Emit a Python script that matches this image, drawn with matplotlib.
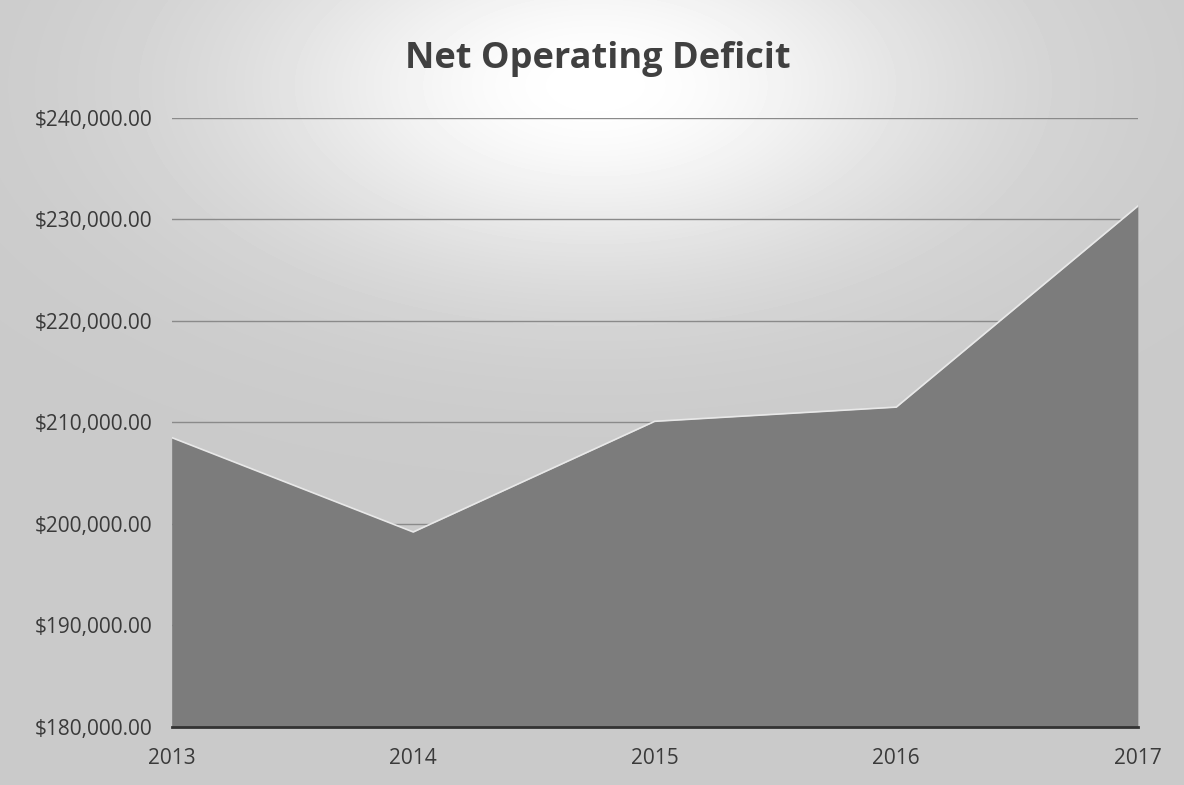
import numpy as np
import matplotlib
matplotlib.use("Agg")
import matplotlib.pyplot as plt
from matplotlib.ticker import FuncFormatter

# data
years = [2013, 2014, 2015, 2016, 2017]
deficit = [208500, 199200, 210100, 211500, 231300]
y_ticks = [180000, 190000, 200000, 210000, 220000, 230000, 240000]

fig = plt.figure(figsize=(11.84, 7.85), dpi=100)

# photocopied gray page with a light glow behind the title
h, w = 785, 1184
yy, xx = np.mgrid[0:h, 0:w]
d = np.sqrt(((xx - 595) / 360.0) ** 2 + ((yy - 85) / 190.0) ** 2)
bg = 0.79 + 0.21 * np.exp(-d ** 2)
bg = np.clip(bg, 0, 1)
fig.figimage(bg, cmap="gray", vmin=0, vmax=1, origin="upper", zorder=-5)

ax = fig.add_axes([0.145, 0.074, 0.816, 0.776])
ax.patch.set_alpha(0)

ax.fill_between(years, deficit, y_ticks[0], color="#7c7c7c", linewidth=0, zorder=2)
ax.plot(years, deficit, color="#e8e8e8", linewidth=1.2, zorder=3)

ax.set_xlim(years[0], years[-1])
ax.set_ylim(y_ticks[0], y_ticks[-1])
ax.set_yticks(y_ticks)
ax.set_xticks(years)
ax.yaxis.set_major_formatter(FuncFormatter(lambda v, p: "${:,.2f}".format(v)))
ax.grid(axis="y", color="#8a8a8a", linewidth=1.0, zorder=1)
ax.set_axisbelow(True)

for s in ["top", "right", "left"]:
    ax.spines[s].set_visible(False)
ax.spines["bottom"].set_color("#333333")
ax.spines["bottom"].set_linewidth(2)
ax.spines["bottom"].set_zorder(4)
ax.tick_params(length=0, labelsize=15, labelcolor="#3a3a3a")
ax.tick_params(axis="y", pad=14)
ax.tick_params(axis="x", pad=15)
for lab in ax.get_xticklabels() + ax.get_yticklabels():
    lab.set_family("Open Sans")

fig.text(0.505, 0.925, "Net Operating Deficit", ha="center", va="center",
         fontsize=26, fontweight="bold", color="#404040", family="Open Sans")

fig.savefig("out.png", dpi=100)
